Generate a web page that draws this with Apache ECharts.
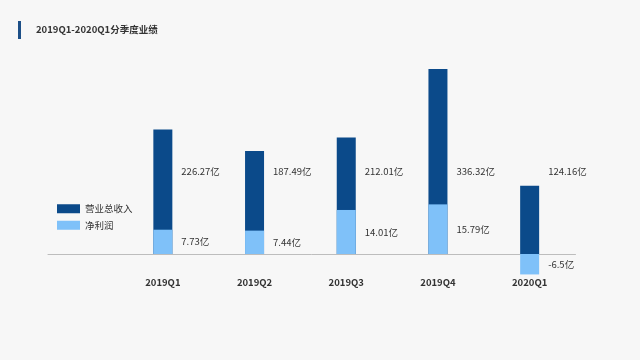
<!DOCTYPE html>
<html>
<head>
<meta charset="utf-8">
<script src="https://cdn.jsdelivr.net/npm/echarts@6/dist/echarts.min.js"></script>
<style>
html,body{margin:0;padding:0;background:#f7f7f7;}
#c{width:640px;height:360px;}
</style>
</head>
<body>
<div id="c"></div>
<script>
var categories = ['2019Q1', '2019Q2', '2019Q3', '2019Q4', '2020Q1'];
var revenue = [226.27, 187.49, 212.01, 336.32, 124.16];
var profit = [7.73, 7.44, 14.01, 15.79, -6.5];
var titleText = '2019Q1-2020Q1分季度业绩';
var seriesNames = ['营业总收入', '净利润'];

var FONT = '"Noto Sans CJK SC", "Noto Sans", sans-serif';
var FS = 9.5;
var DARK = '#0b4a8a';
var LIGHT = '#7fc1f9';
var REV_LABEL_LEVEL = 150; // revenue-axis level at which revenue labels sit

var chart = echarts.init(document.getElementById('c'), null, {renderer: 'canvas'});

function buildOption(revLabelPos) {
  return {
    backgroundColor: '#f7f7f7',
    animation: false,
    title: {
      text: titleText, left: 31, top: 20,
      textStyle: {fontFamily: FONT, fontSize: FS, fontWeight: 'bold', color: '#333'}
    },
    graphic: [{
      type: 'rect', left: 18, top: 21, shape: {width: 3, height: 18},
      style: {fill: '#1d4f87'}
    }],
    legend: {
      orient: 'vertical', left: 52, top: 199, itemWidth: 23, itemHeight: 9, itemGap: 7,
      icon: 'rect', data: seriesNames,
      textStyle: {fontFamily: FONT, fontSize: FS, color: '#333'}
    },
    grid: [
      {left: 117, right: 64.5, top: 34, height: 264},
      {left: 48, right: 64.5, top: 34, height: 264}
    ],
    xAxis: [
      {
        type: 'category', gridIndex: 0, data: categories, position: 'bottom', offset: -44,
        axisLine: {show: false, onZero: false},
        axisTick: {show: false},
        axisLabel: {margin: 24, fontFamily: FONT, fontSize: FS, fontWeight: 'bold', color: '#333'}
      },
      {
        type: 'value', gridIndex: 1, min: 0, max: 1,
        axisLine: {show: true, onZero: true, lineStyle: {color: '#bdbdbd', width: 1}},
        axisTick: {show: false}, axisLabel: {show: false}, splitLine: {show: false}
      }
    ],
    yAxis: [
      {type: 'value', gridIndex: 0, min: -80, max: 400, show: false, splitLine: {show: false}},
      {type: 'value', gridIndex: 0, min: -14, max: 70, show: false, splitLine: {show: false}},
      {type: 'value', gridIndex: 1, min: -80, max: 400, show: false, splitLine: {show: false}}
    ],
    series: [
      {
        name: seriesNames[0], type: 'bar', xAxisIndex: 0, yAxisIndex: 0,
        barWidth: 19, barGap: '-100%', itemStyle: {color: DARK},
        data: revenue.map(function (v, i) {
          return {
            value: v,
            label: {
              show: true,
              position: revLabelPos ? revLabelPos[i] : 'right',
              verticalAlign: 'middle',
              formatter: v + '亿',
              fontFamily: FONT, fontSize: FS, color: '#333'
            }
          };
        })
      },
      {
        name: seriesNames[1], type: 'bar', xAxisIndex: 0, yAxisIndex: 1,
        barWidth: 19, barGap: '-100%', itemStyle: {color: LIGHT},
        label: {
          show: true, position: 'right', distance: 9,
          formatter: function (p) { return p.value + '亿'; },
          fontFamily: FONT, fontSize: FS, color: '#333'
        },
        data: profit
      }
    ]
  };
}

chart.setOption(buildOption(null));
var levelPx = chart.convertToPixel({yAxisIndex: 0}, REV_LABEL_LEVEL);
var positions = revenue.map(function (v) {
  var topPx = chart.convertToPixel({yAxisIndex: 0}, v);
  return [28, levelPx - topPx];
});
chart.setOption(buildOption(positions));
</script>
</body>
</html>
